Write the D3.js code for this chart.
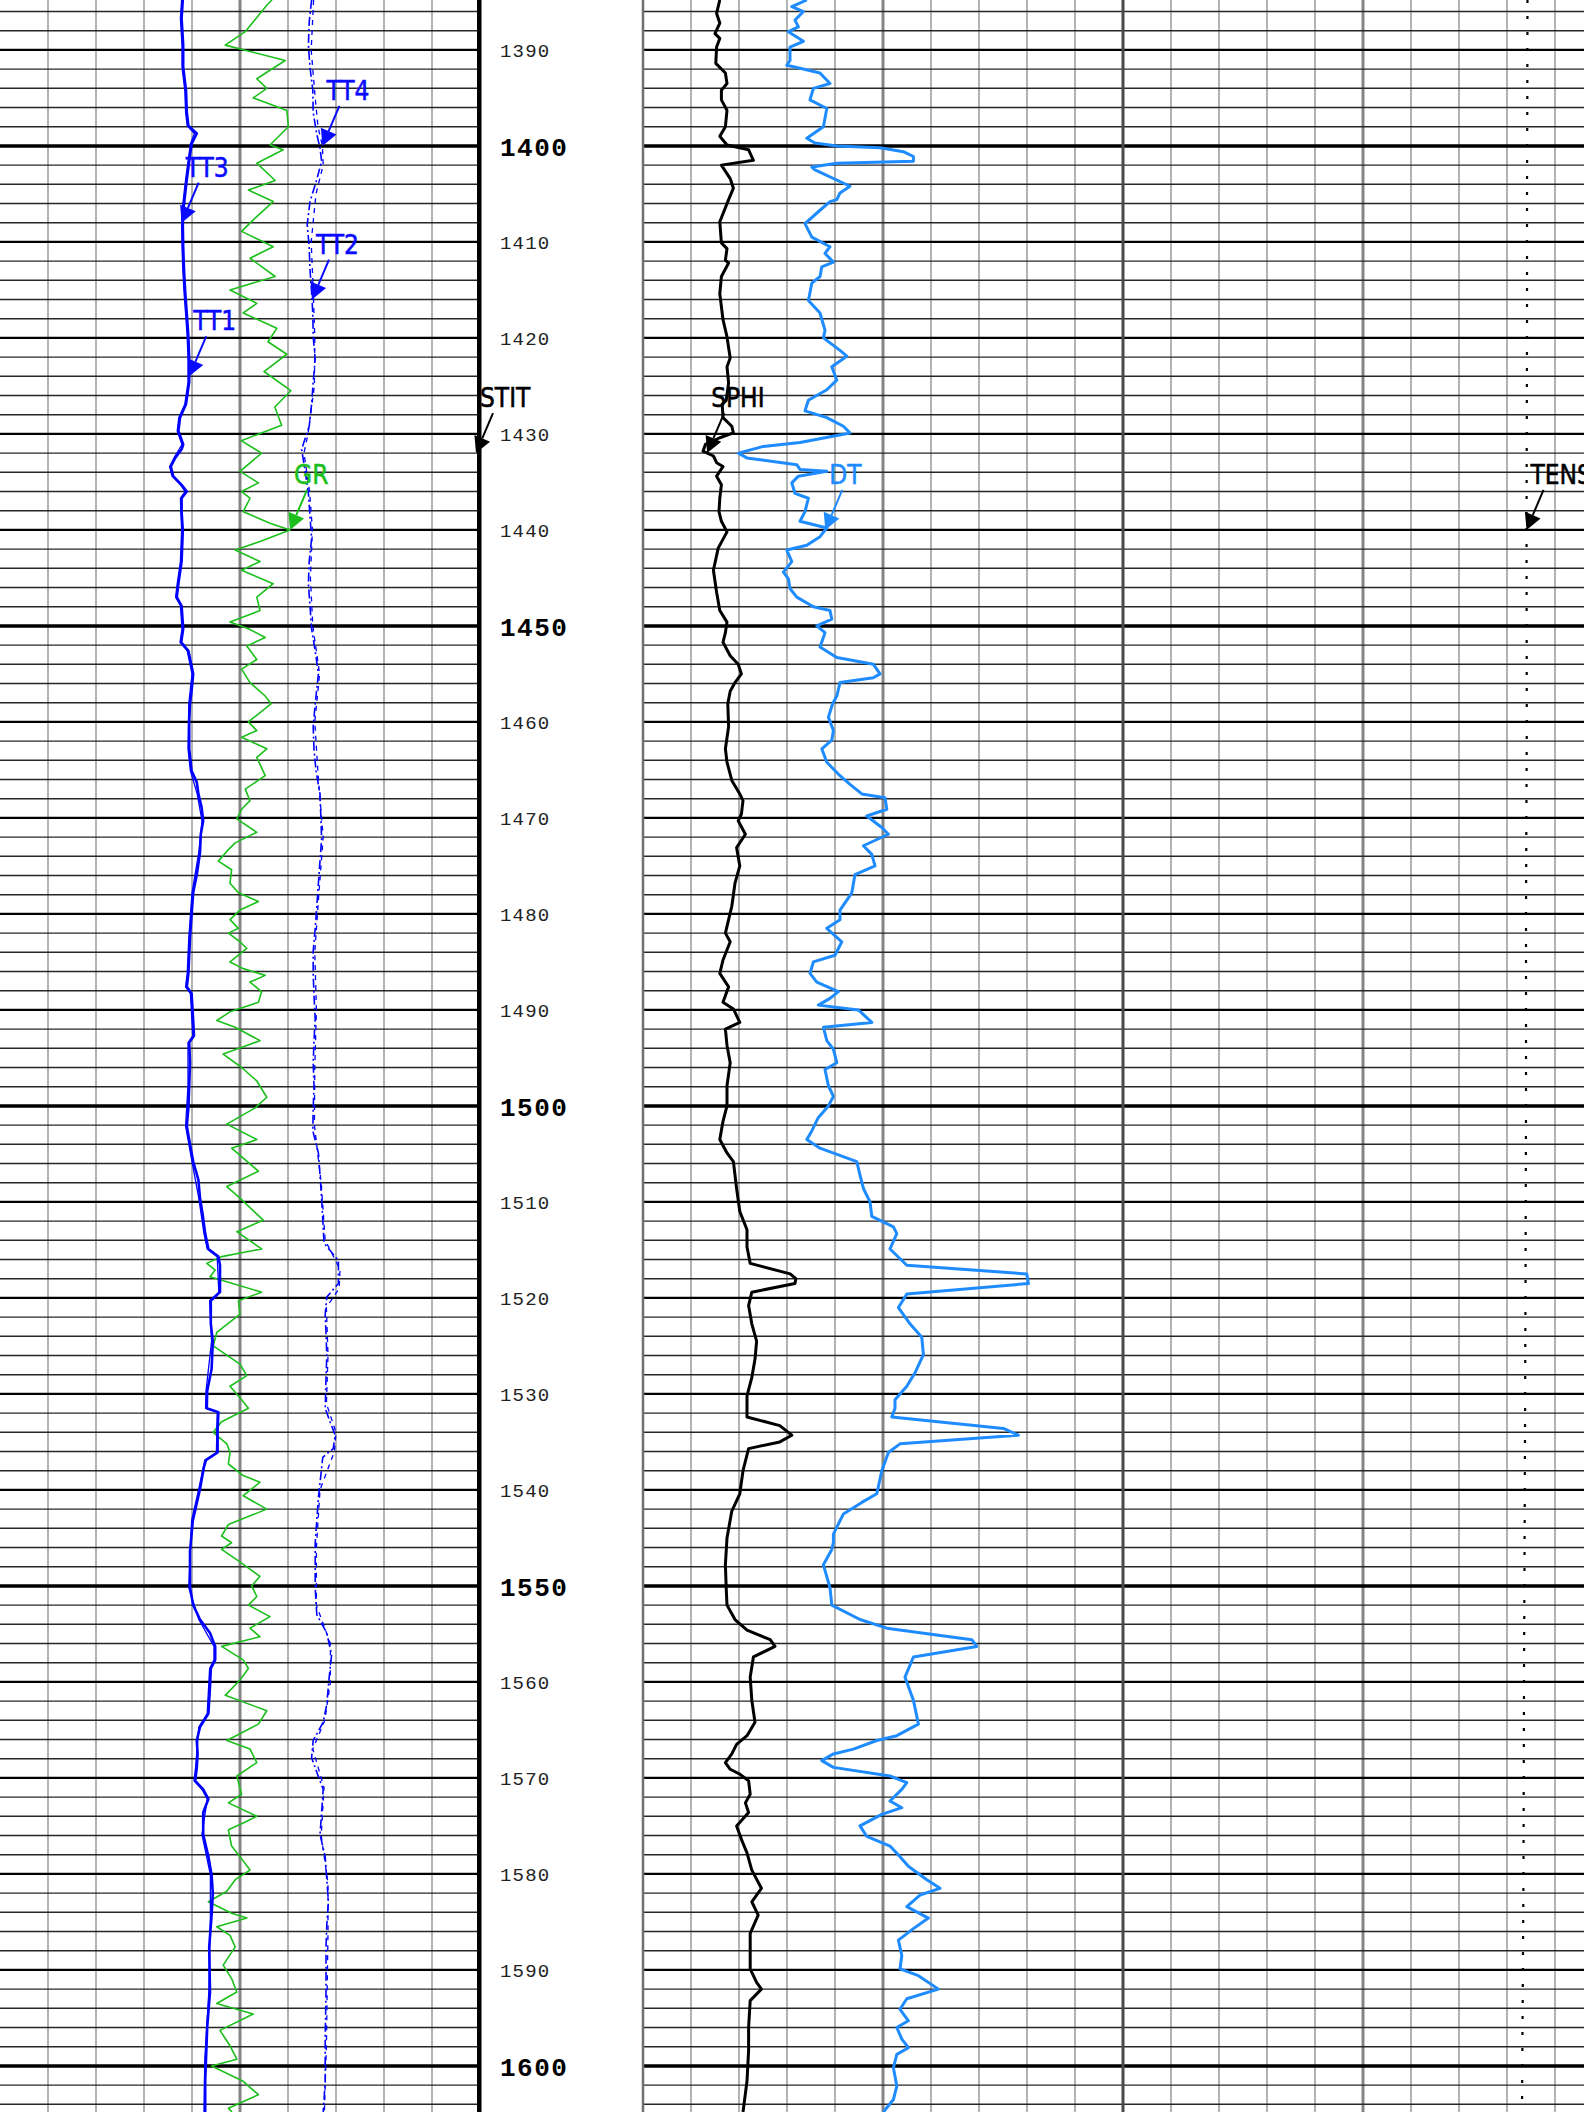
<!DOCTYPE html>
<html><head><meta charset="utf-8">
<script src="https://cdn.jsdelivr.net/npm/d3@7"></script>
<style>
body{margin:0;background:#fff;overflow:hidden}
svg{display:block;background:#fff}
</style>
</head><body>
<svg id="chart" width="1584" height="2112"></svg>
<script>
// ---------------- DATA (depth m, value) ----------------
const depthRange = [1384.8, 1604.8];
const depthLabels = [1390,1400,1410,1420,1430,1440,1450,1460,1470,1480,1490,1500,1510,1520,1530,1540,1550,1560,1570,1580,1590,1600];

// TT1..TT4 transit times (us), track 1, scale 0-1200
const tt1 = [[1384.8,457],[1386.7,454],[1389.5,458],[1391.8,458],[1394.2,465],[1396.5,467],[1397.9,471],[1398.7,492],[1399.8,479],[1401.6,473],[1403.5,467],[1406.8,458],[1408.2,457],[1410.5,458],[1412.9,460],[1415.2,463],[1417.5,467],[1419.9,471],[1422.2,473],[1424.6,473],[1426.9,465],[1428.3,450],[1429.7,446],[1431.1,458],[1431.6,454],[1432.5,438],[1433.4,427],[1434.4,433],[1435.3,454],[1436.0,467],[1436.7,454],[1438.1,454],[1440.0,457],[1443.3,454],[1445.6,446],[1447.0,442],[1447.9,454],[1450.3,458],[1451.7,453],[1452.6,471],[1455.0,483],[1456.8,479],[1458.1,475],[1460.0,473],[1462.8,473],[1465.1,479],[1466.3,492],[1467.5,496],[1468.9,504],[1470.3,508],[1471.7,502],[1473.6,500],[1475.9,492],[1477.8,483],[1480.1,479],[1482.5,475],[1484.3,473],[1486.2,471],[1487.6,467],[1488.3,479],[1490.4,482],[1492.7,485],[1493.4,473],[1495.5,475],[1497.9,473],[1500.2,471],[1502.1,467],[1504.0,475],[1505.8,483],[1507.7,496],[1509.6,500],[1511.4,507],[1513.3,513],[1514.9,521],[1515.7,546],[1516.6,550],[1518.0,550],[1519.4,550],[1520.3,527],[1522.7,527],[1524.5,532],[1527.4,529],[1529.7,518],[1531.5,517],[1531.9,546],[1533.8,544],[1536.1,544],[1536.9,515],[1537.6,510],[1539.9,500],[1543.2,482],[1546.4,475],[1550.2,475],[1552.0,483],[1553.5,500],[1554.9,525],[1556.3,538],[1557.7,538],[1558.6,527],[1560.5,525],[1563.3,521],[1564.7,500],[1566.1,492],[1567.5,494],[1568.9,492],[1570.3,488],[1571.2,508],[1572.2,521],[1573.6,508],[1575.9,508],[1578.2,521],[1580.1,529],[1582.0,532],[1584.3,529],[1587.6,523],[1592.3,525],[1596.0,518],[1599.3,515],[1601.6,513],[1604.8,513]];

const tt3 = [[1384.8,454],[1386.7,451],[1389.5,455],[1391.8,455],[1394.2,462],[1396.5,464],[1397.9,468],[1398.7,486],[1399.8,476],[1401.6,470],[1403.5,464],[1406.8,455],[1408.2,454],[1410.5,455],[1412.9,457],[1415.2,460],[1417.5,464],[1419.9,468],[1422.2,470],[1424.6,470],[1426.9,462],[1428.3,447],[1429.7,443],[1431.1,455],[1432.5,435],[1433.4,424],[1434.4,430],[1435.3,451],[1436.0,463],[1436.7,451],[1440.0,454],[1443.3,451],[1445.6,443],[1447.0,439],[1447.9,451],[1450.3,455],[1451.7,450],[1452.6,468],[1455.0,480],[1458.1,472],[1462.8,470],[1465.1,476],[1467.5,493],[1470.3,505],[1473.6,497],[1477.8,480],[1482.5,472],[1486.2,468],[1487.6,464],[1488.3,476],[1492.7,482],[1493.4,470],[1497.9,470],[1502.1,464],[1505.8,480],[1509.6,497],[1513.3,510],[1514.9,518],[1515.7,543],[1519.4,547],[1520.3,524],[1524.5,529],[1529.7,515],[1531.5,514],[1531.9,543],[1536.1,541],[1536.9,512],[1539.9,497],[1543.2,479],[1550.2,472],[1553.5,497],[1556.3,535],[1557.7,535],[1558.6,524],[1563.3,518],[1564.7,497],[1568.9,489],[1570.3,485],[1571.2,505],[1572.2,518],[1575.9,505],[1580.1,526],[1584.3,526],[1592.3,522],[1599.3,512],[1604.8,510]];

const tt2 = [[1384.8,779],[1387.1,773],[1389.5,771],[1391.8,775],[1394.2,782],[1396.5,783],[1398.8,792],[1400.2,800],[1401.6,804],[1403.5,792],[1405.8,775],[1408.2,768],[1410.5,773],[1412.9,775],[1415.2,779],[1417.5,782],[1419.9,783],[1422.2,788],[1424.6,783],[1426.9,779],[1429.2,773],[1431.6,754],[1433.9,763],[1436.2,771],[1438.6,775],[1440.9,779],[1443.3,773],[1445.6,771],[1447.9,775],[1450.3,779],[1452.6,788],[1455.0,796],[1458.1,788],[1460.5,783],[1462.8,785],[1465.1,790],[1467.5,800],[1469.8,802],[1472.2,804],[1474.5,800],[1476.8,796],[1479.2,792],[1481.5,788],[1483.9,783],[1486.2,783],[1488.5,785],[1490.9,788],[1493.2,785],[1495.5,783],[1497.9,785],[1500.2,783],[1502.6,782],[1504.9,796],[1507.2,800],[1509.6,804],[1511.9,807],[1514.3,810],[1516.1,846],[1518.5,846],[1519.9,817],[1521.7,813],[1523.6,815],[1526.0,817],[1528.3,815],[1531.5,813],[1532.9,825],[1534.3,838],[1535.7,833],[1536.6,807],[1540.8,796],[1545.5,788],[1550.2,788],[1553.0,792],[1554.9,817],[1557.2,829],[1559.5,823],[1562.3,817],[1564.2,808],[1566.1,783],[1567.9,779],[1569.4,792],[1571.2,808],[1573.6,804],[1575.9,800],[1578.2,813],[1580.6,817],[1582.9,821],[1585.3,817],[1587.6,815],[1592.3,815],[1597.0,813],[1601.6,813],[1604.8,808]];

const tt4 = [[1384.8,784],[1390,778],[1395,788],[1398,795],[1400,806],[1402,808],[1405,790],[1410,778],[1415,783],[1420,787],[1425,786],[1430,770],[1432,760],[1436,774],[1440,781],[1445,776],[1450,782],[1455,799],[1460,787],[1466,796],[1472,808],[1478,797],[1484,787],[1490,791],[1496,787],[1502,786],[1508,803],[1514,813],[1517,850],[1519,848],[1521,816],[1526,820],[1531,816],[1534,840],[1536,836],[1540,800],[1546,791],[1552,791],[1556,826],[1560,826],[1564,812],[1567,782],[1571,810],[1576,803],[1581,820],[1586,820],[1592,818],[1598,816],[1604.8,811]];

// GR gamma ray (gAPI), track 1, scale 0-120
const gr = [[1384.8,68.0],[1385.3,66.8],[1388.1,61.3],[1389.5,56.3],[1391.1,71.3],[1393.0,64.2],[1394.0,66.7],[1395.0,63.3],[1396.3,71.7],[1398.0,72.1],[1399.9,67.5],[1400.4,70.8],[1401.8,64.2],[1403.6,68.8],[1404.6,62.1],[1405.8,68.3],[1407.7,63.3],[1408.9,60.4],[1410.5,68.3],[1411.7,62.5],[1413.6,68.8],[1415.0,57.5],[1416.4,64.2],[1417.4,60.8],[1419.0,69.2],[1420.4,67.0],[1421.7,71.7],[1423.5,66.0],[1425.5,72.7],[1427.2,68.7],[1429.1,70.4],[1430.7,60.3],[1432.0,65.4],[1433.9,60.0],[1435.1,64.6],[1436.0,60.4],[1436.7,62.5],[1438.1,60.8],[1439.3,67.5],[1440.0,72.5],[1441.2,65.0],[1442.1,58.8],[1443.3,65.0],[1444.2,60.4],[1445.6,68.3],[1447.0,64.2],[1448.4,65.0],[1449.6,57.5],[1450.3,62.1],[1451.2,66.3],[1452.1,61.7],[1453.5,64.2],[1454.5,60.4],[1455.9,62.5],[1457.3,66.3],[1458.1,67.8],[1460.0,62.1],[1460.9,64.2],[1461.6,60.4],[1462.8,66.7],[1463.7,64.2],[1465.6,66.3],[1467.0,61.3],[1468.2,62.5],[1469.1,60.4],[1470.1,59.2],[1471.5,64.2],[1472.6,58.8],[1473.3,57.1],[1474.5,54.6],[1475.4,57.9],[1476.8,57.5],[1477.8,59.6],[1478.7,64.6],[1479.6,60.0],[1480.6,57.5],[1481.5,59.6],[1482.0,57.1],[1482.9,60.0],[1483.6,61.7],[1485.0,57.5],[1485.7,60.8],[1486.4,66.3],[1487.1,62.5],[1488.1,65.4],[1489.2,64.6],[1490.2,57.5],[1491.1,54.2],[1491.8,58.8],[1493.2,65.0],[1494.6,55.8],[1496.0,60.4],[1497.4,64.2],[1499.1,66.7],[1500.2,63.8],[1501.9,56.7],[1503.5,64.2],[1504.4,57.9],[1506.8,64.6],[1508.4,56.7],[1509.6,60.0],[1511.9,65.8],[1513.1,59.2],[1514.9,65.4],[1515.7,55.4],[1516.4,51.7],[1517.1,53.8],[1517.8,52.5],[1519.4,65.4],[1520.3,59.6],[1521.7,60.0],[1523.6,54.2],[1525.0,53.3],[1526.9,60.0],[1528.1,61.7],[1529.2,57.5],[1530.6,60.4],[1531.5,62.1],[1532.9,55.4],[1534.0,53.3],[1535.2,56.7],[1536.1,57.5],[1537.3,57.1],[1538.5,60.8],[1539.2,65.0],[1540.6,60.8],[1542.0,66.7],[1543.6,57.1],[1544.8,55.4],[1545.5,57.9],[1546.2,55.4],[1547.4,59.6],[1549.0,65.0],[1550.0,62.9],[1551.1,64.2],[1552.0,62.1],[1553.2,67.5],[1554.4,62.5],[1555.3,65.0],[1556.3,55.4],[1557.7,60.8],[1558.6,62.1],[1559.8,60.0],[1561.4,56.3],[1563.0,66.7],[1564.4,64.6],[1566.1,56.7],[1567.0,62.5],[1568.4,64.2],[1569.8,59.2],[1571.7,60.4],[1572.6,57.1],[1574.0,64.2],[1574.7,60.8],[1575.4,57.1],[1577.1,57.9],[1578.2,60.0],[1579.6,62.5],[1580.6,58.8],[1581.8,56.7],[1582.9,52.1],[1584.1,57.9],[1584.6,61.7],[1585.5,54.2],[1586.4,57.5],[1587.6,58.8],[1589.5,55.8],[1590.9,57.9],[1592.3,59.2],[1593.5,54.2],[1594.6,63.3],[1596.3,55.0],[1597.9,57.5],[1599.3,59.2],[1600.0,52.9],[1601.6,60.8],[1603.0,64.6],[1604.4,57.1],[1604.8,58.0]];

// STIT, plotted at the right edge of track 1 (scale 0-1200)
const stit = [[1384.8,1195],[1604.8,1195]];

// SPHI sonic porosity (v/v), track 2, scale 0-0.6
const sphi = [[1384.8,0.096],[1385.5,0.094],[1386.2,0.092],[1387.2,0.096],[1388.3,0.090],[1388.8,0.096],[1389.7,0.092],[1391.4,0.091],[1392.4,0.103],[1393.5,0.105],[1394.2,0.098],[1395.2,0.098],[1396.3,0.105],[1398.0,0.103],[1399.0,0.096],[1399.9,0.105],[1400.4,0.132],[1401.5,0.138],[1402.0,0.098],[1403.4,0.109],[1404.4,0.113],[1405.6,0.107],[1407.9,0.096],[1410.1,0.098],[1410.7,0.105],[1411.9,0.103],[1412.2,0.107],[1413.6,0.098],[1415.4,0.096],[1418.1,0.100],[1419.9,0.105],[1422.1,0.109],[1423.0,0.105],[1424.7,0.107],[1426.5,0.104],[1426.9,0.099],[1428.3,0.100],[1429.2,0.111],[1429.9,0.113],[1430.4,0.096],[1431.1,0.078],[1431.8,0.075],[1432.3,0.088],[1433.0,0.092],[1433.4,0.100],[1434.4,0.092],[1435.3,0.098],[1436.7,0.096],[1438.1,0.095],[1439.1,0.098],[1440.2,0.105],[1441.9,0.094],[1444.2,0.088],[1446.5,0.092],[1448.4,0.096],[1449.6,0.105],[1450.7,0.103],[1451.7,0.100],[1453.1,0.109],[1454.0,0.119],[1455.0,0.123],[1455.9,0.115],[1456.8,0.109],[1458.1,0.106],[1460.5,0.107],[1462.8,0.103],[1464.2,0.105],[1466.1,0.111],[1467.5,0.121],[1468.2,0.125],[1469.6,0.123],[1470.3,0.119],[1471.7,0.128],[1473.1,0.117],[1475.0,0.121],[1476.8,0.115],[1479.2,0.111],[1480.6,0.107],[1482.0,0.103],[1482.9,0.109],[1484.8,0.100],[1486.2,0.096],[1487.6,0.107],[1489.2,0.100],[1489.9,0.113],[1491.3,0.121],[1492.0,0.103],[1493.7,0.105],[1495.5,0.109],[1497.9,0.105],[1500.0,0.105],[1501.6,0.100],[1503.5,0.096],[1504.9,0.105],[1505.8,0.113],[1508.6,0.117],[1511.0,0.121],[1512.9,0.130],[1514.7,0.130],[1516.4,0.134],[1517.5,0.184],[1518.0,0.191],[1518.5,0.190],[1519.4,0.136],[1520.8,0.132],[1522.7,0.136],[1524.5,0.142],[1526.4,0.140],[1528.3,0.136],[1530.2,0.130],[1532.4,0.130],[1533.3,0.171],[1534.3,0.186],[1535.0,0.171],[1535.7,0.132],[1538.0,0.125],[1540.4,0.121],[1542.2,0.111],[1545.0,0.105],[1547.8,0.103],[1550.2,0.104],[1552.0,0.105],[1553.5,0.115],[1554.6,0.130],[1555.6,0.159],[1556.3,0.165],[1557.4,0.138],[1559.5,0.134],[1561.9,0.136],[1564.2,0.140],[1565.6,0.130],[1566.5,0.117],[1567.5,0.111],[1568.4,0.103],[1569.1,0.109],[1569.6,0.121],[1570.3,0.132],[1571.7,0.134],[1572.6,0.128],[1573.6,0.132],[1575.0,0.117],[1576.4,0.123],[1577.8,0.130],[1579.6,0.136],[1581.5,0.148],[1582.9,0.136],[1584.3,0.144],[1586.2,0.134],[1589.9,0.134],[1591.3,0.142],[1592.0,0.148],[1593.2,0.134],[1596.0,0.132],[1598.4,0.132],[1601.6,0.130],[1604.8,0.125]];

// DT sonic slowness (us/ft), track 2, scale 0-240
const dt = [[1384.8,81.9],[1385.5,74.4],[1386.0,80.2],[1386.9,76.0],[1387.6,77.7],[1388.1,72.7],[1389.1,80.2],[1389.7,73.5],[1391.1,73.5],[1391.6,71.9],[1391.9,78.5],[1392.4,88.5],[1393.5,93.5],[1394.0,85.2],[1395.2,83.5],[1396.1,91.9],[1398.0,90.2],[1399.2,81.9],[1399.7,86.0],[1400.0,96.9],[1400.2,118.5],[1400.6,130.2],[1401.1,135.2],[1401.6,135.2],[1401.8,96.9],[1402.2,84.4],[1402.5,86.0],[1404.2,103.5],[1404.9,98.5],[1405.6,96.9],[1405.8,93.5],[1406.7,88.5],[1408.1,81.0],[1409.5,84.4],[1410.5,93.5],[1411.2,91.0],[1412.1,95.2],[1412.6,89.4],[1413.6,88.5],[1414.3,84.4],[1416.1,82.7],[1417.4,88.5],[1419.2,91.0],[1420.0,90.2],[1421.3,98.5],[1421.9,101.9],[1423.0,94.4],[1424.4,96.9],[1425.4,91.9],[1426.5,82.7],[1427.6,81.0],[1428.3,91.9],[1429.2,100.2],[1429.9,103.5],[1430.9,78.5],[1431.3,60.2],[1432.0,47.7],[1432.5,51.9],[1433.2,76.9],[1433.7,78.5],[1433.9,91.9],[1434.4,77.7],[1435.1,74.4],[1436.2,76.0],[1436.7,82.7],[1438.1,81.0],[1439.1,78.5],[1439.8,91.9],[1440.7,88.5],[1441.6,81.9],[1442.1,71.9],[1443.3,74.4],[1444.4,70.2],[1445.1,72.7],[1446.1,73.5],[1447.0,76.9],[1448.0,85.2],[1448.4,93.5],[1449.3,94.4],[1450.0,86.9],[1450.7,91.0],[1452.2,88.5],[1453.3,96.9],[1454.0,115.2],[1455.0,118.5],[1455.4,115.2],[1455.9,98.5],[1457.3,96.9],[1458.1,94.8],[1459.5,92.7],[1460.9,95.2],[1461.9,94.4],[1462.8,89.4],[1464.2,91.9],[1465.6,98.5],[1466.5,103.5],[1467.5,109.4],[1467.9,121.0],[1469.1,121.9],[1469.8,111.9],[1471.0,119.4],[1471.7,122.7],[1472.9,110.2],[1473.8,114.4],[1475.0,116.0],[1475.9,106.0],[1477.8,104.4],[1479.6,98.5],[1480.6,98.5],[1481.5,91.9],[1482.9,99.4],[1484.3,96.0],[1485.0,85.2],[1486.2,83.5],[1487.1,86.9],[1488.1,97.7],[1488.8,93.5],[1489.5,87.7],[1490.0,107.7],[1491.3,114.4],[1491.8,90.2],[1493.2,91.9],[1494.1,95.2],[1495.5,96.9],[1496.2,91.0],[1497.9,92.7],[1499.0,95.2],[1500.0,92.7],[1501.2,87.7],[1502.6,84.4],[1503.5,81.9],[1504.4,88.5],[1505.8,106.9],[1507.2,108.5],[1508.6,110.2],[1510.0,113.5],[1511.5,114.4],[1512.6,125.2],[1513.3,126.9],[1514.9,123.5],[1516.6,131.9],[1517.5,191.9],[1518.5,192.7],[1519.6,131.9],[1521.0,127.7],[1522.7,133.5],[1524.1,139.4],[1525.9,140.2],[1527.8,136.0],[1529.2,131.9],[1530.6,126.0],[1531.5,126.0],[1532.4,124.4],[1533.6,180.2],[1534.3,187.7],[1535.2,128.5],[1536.1,122.7],[1538.0,119.4],[1540.4,116.9],[1541.3,109.4],[1542.5,100.2],[1544.6,95.2],[1545.5,95.2],[1546.2,94.4],[1547.8,90.2],[1550.2,93.5],[1552.0,94.4],[1553.5,108.5],[1554.4,121.9],[1555.6,164.4],[1556.3,166.9],[1557.4,135.2],[1559.5,131.0],[1561.9,135.2],[1564.4,137.7],[1565.6,126.9],[1566.1,116.9],[1567.0,105.2],[1567.5,95.2],[1568.2,89.4],[1568.9,95.2],[1569.8,123.5],[1570.5,131.9],[1571.2,129.4],[1572.4,123.5],[1573.1,129.4],[1573.8,119.4],[1575.0,108.5],[1576.1,111.9],[1577.1,123.5],[1578.2,128.5],[1579.2,132.7],[1580.6,141.9],[1581.5,148.5],[1582.2,138.5],[1583.4,131.9],[1584.6,142.7],[1585.7,135.2],[1586.9,127.7],[1588.5,129.4],[1589.9,128.5],[1590.6,137.7],[1592.0,147.7],[1593.0,131.9],[1594.1,128.5],[1595.3,132.7],[1596.0,126.9],[1597.2,129.4],[1598.1,132.7],[1598.8,126.9],[1600.2,125.2],[1602.1,126.9],[1603.5,125.2],[1604.8,120.2]];

// TENS cable tension (lbf), track 3, scale 0-12000
const tens = [[1384.8,10112],[1395,10108],[1405,10100],[1420,10100],[1440,10088],[1460,10095],[1480,10075],[1500,10075],[1520,10062],[1540,10045],[1560,10025],[1580,10012],[1604.8,9975]];

// curve labels and the depths their arrows point at
const labelNames  = ["TT4","TT3","TT2","TT1","STIT","GR","SPHI","DT","TENS"];
const labelDepths = [1400, 1408, 1416, 1424, 1432, 1440, 1432, 1440, 1440];

// ---------------- LAYOUT ----------------
const W = 1584, H = 2112;
const T1 = [0, 480], T2 = [643, 1123], T3 = [1123, 1603];

const svg = d3.select("#chart");
const y = d3.scaleLinear().domain(depthRange).range([0, H]);

const xTT   = d3.scaleLinear().domain([0, 1200]).range(T1);
const xGR   = d3.scaleLinear().domain([0, 120]).range(T1);
const xSPHI = d3.scaleLinear().domain([0, 0.6]).range(T2);
const xDT   = d3.scaleLinear().domain([0, 240]).range(T2);
const xTENS = d3.scaleLinear().domain([0, 12000]).range(T3);

const defs = svg.append("defs");
[["c1", T1], ["c2", T2], ["c3", T3]].forEach(([id, t]) => {
  defs.append("clipPath").attr("id", id).append("rect")
    .attr("x", t[0]).attr("y", 0).attr("width", t[1] - t[0]).attr("height", H);
});

// ---------------- GRID ----------------
const grid = svg.append("g");
[T1, T2, T3].forEach(t => {
  const gx = d3.scaleLinear().domain([0, 10]).range(t);
  grid.selectAll(null).data(d3.range(1, 10)).join("line")
    .attr("x1", d => gx(d)).attr("x2", d => gx(d))
    .attr("y1", 0).attr("y2", H)
    .attr("stroke", d => d === 5 ? "#858585" : "#a0a0a0")
    .attr("stroke-width", d => d === 5 ? 3 : 1.6);
});

const hDepths = d3.range(1386, 1605, 2);
[[T1[0], T1[1]], [T2[0], T3[1]]].forEach(seg => {
  grid.selectAll(null).data(hDepths).join("line")
    .attr("x1", seg[0]).attr("x2", seg[1])
    .attr("y1", d => y(d)).attr("y2", d => y(d))
    .attr("stroke", d => d % 10 === 0 ? "#000" : "#262626")
    .attr("stroke-width", d => d % 50 === 0 ? 3.5 : (d % 10 === 0 ? 2.2 : 1.4));
});

grid.append("line").attr("x1", 480).attr("x2", 480).attr("y1", 0).attr("y2", H)
  .attr("stroke", "#000").attr("stroke-width", 3);
grid.append("line").attr("x1", 643).attr("x2", 643).attr("y1", 0).attr("y2", H)
  .attr("stroke", "#707070").attr("stroke-width", 2.5);
grid.append("line").attr("x1", 1123).attr("x2", 1123).attr("y1", 0).attr("y2", H)
  .attr("stroke", "#4a4a4a").attr("stroke-width", 3);

// ---------------- DEPTH AXIS ----------------
const axis = d3.axisRight(y).tickValues(depthLabels).tickSize(0).tickPadding(0).tickFormat(d3.format("d"));
const ax = svg.append("g").attr("transform", "translate(500,0)").call(axis);
ax.select(".domain").remove();
ax.selectAll("text")
  .attr("x", 0).attr("dy", "0.35em")
  .attr("text-anchor", "start")
  .style("font-family", "'Liberation Mono','Courier New',monospace")
  .style("font-size", d => d % 50 === 0 ? "26px" : "19px")
  .style("font-weight", d => d % 50 === 0 ? "bold" : "normal")
  .style("letter-spacing", d => d % 50 === 0 ? "1.5px" : "1.2px")
  .attr("fill", d => d % 50 === 0 ? "#000" : "#222");

// ---------------- CURVES ----------------
const curves = [
  {name: "GR",   data: gr,   x: xGR,   clip: "c1", color: "#1cbf1c", w: 1.6, dash: null},
  {name: "TT2",  data: tt2,  x: xTT,   clip: "c1", color: "#0000ff", w: 1.6, dash: "9,3,2,3"},
  {name: "TT4",  data: tt4,  x: xTT,   clip: "c1", color: "#0000ff", w: 1.3, dash: "5,5"},
  {name: "TT3",  data: tt3,  x: xTT,   clip: "c1", color: "#0000ff", w: 1.3, dash: null},
  {name: "TT1",  data: tt1,  x: xTT,   clip: "c1", color: "#0000ff", w: 2.6, dash: null},
  {name: "STIT", data: stit, x: xTT,   clip: "c1", color: "#000",    w: 2,   dash: null},
  {name: "SPHI", data: sphi, x: xSPHI, clip: "c2", color: "#000",    w: 3,   dash: null},
  {name: "DT",   data: dt,   x: xDT,   clip: "c2", color: "#1e8cff", w: 3,   dash: null},
  {name: "TENS", data: tens, x: xTENS, clip: "c3", color: "#000",    w: 2.2, dash: "3,13"}
];

curves.forEach(c => {
  const line = d3.line().x(d => c.x(d[1])).y(d => y(d[0]));
  svg.append("path").datum(c.data)
    .attr("clip-path", `url(#${c.clip})`)
    .attr("d", line)
    .attr("fill", "none")
    .attr("stroke", c.color)
    .attr("stroke-width", c.w)
    .attr("stroke-linejoin", "round")
    .attr("stroke-dasharray", c.dash);
});

// ---------------- LABELS WITH ARROWS ----------------
function valueAt(data, depth) {
  const i = d3.bisector(p => p[0]).left(data, depth);
  if (i <= 0) return data[0][1];
  if (i >= data.length) return data[data.length - 1][1];
  const a = data[i - 1], b = data[i];
  return a[1] + (b[1] - a[1]) * (depth - a[0]) / (b[0] - a[0]);
}
const labelColor = {TT1: "#0a0aff", TT2: "#0a0aff", TT3: "#0a0aff", TT4: "#0a0aff",
  GR: "#1cbf1c", DT: "#1e8cff", SPHI: "#000", STIT: "#000", TENS: "#000"};

const lab = svg.append("g");
labelNames.forEach((name, k) => {
  const c = curves.find(cc => cc.name === name);
  const d = labelDepths[k];
  const tx = c.x(valueAt(c.data, d)) - (name === "STIT" ? 2 : 0);
  const ty = y(d);
  const col = labelColor[name];
  const sx = tx + 17, sy = ty - 40;
  const len = Math.hypot(tx - sx, ty - sy);
  const ux = (tx - sx) / len, uy = (ty - sy) / len;
  const px = -uy, py = ux;
  const hl = 16, hw = 8.5;
  const bx = tx - ux * hl, by = ty - uy * hl;
  lab.append("line").attr("x1", sx).attr("y1", sy).attr("x2", bx).attr("y2", by)
    .attr("stroke", col).attr("stroke-width", 2);
  lab.append("path")
    .attr("d", `M${tx},${ty}L${bx + px * hw},${by + py * hw}L${bx - px * hw},${by - py * hw}Z`)
    .attr("fill", col);
  lab.append("text").attr("x", tx + 4).attr("y", ty - 46)
    .text(name)
    .attr("fill", col)
    .attr("stroke", col)
    .attr("stroke-width", 0.5)
    .style("font-family", "'DejaVu Sans Condensed','Roboto Condensed','DejaVu Sans',sans-serif")
    .style("font-stretch", "condensed")
    .style("font-size", "26px");
});
</script>
</body></html>
